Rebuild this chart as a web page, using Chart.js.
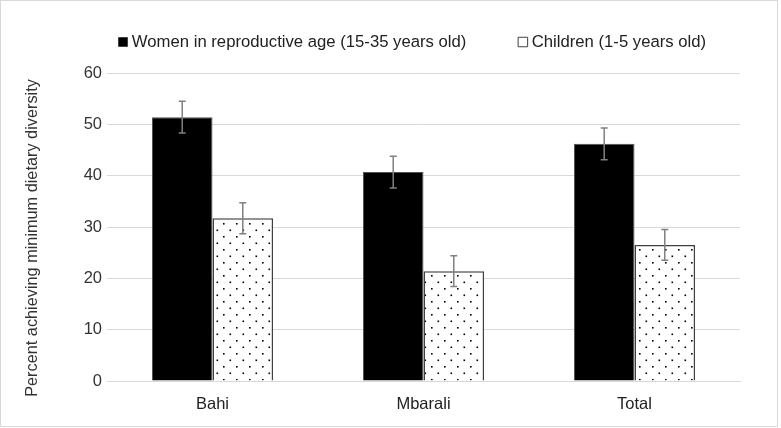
<!DOCTYPE html>
<html>
<head>
<meta charset="utf-8">
<script src="https://cdn.jsdelivr.net/npm/chart.js@4.4.1/dist/chart.umd.min.js"></script>
<style>
  html, body { margin: 0; padding: 0; background: #fff; }
  #wrap { position: relative; width: 781px; height: 428px; }
</style>
</head>
<body>
<div id="wrap"><canvas id="barChart" width="781" height="428"></canvas></div>
<script>
// data
const categories = ['Bahi', 'Mbarali', 'Total'];
const womenValues = [51.4, 40.7, 46.2];
const childrenValues = [31.7, 21.4, 26.5];
const womenErrors = [3.1, 3.1, 3.1];
const childrenErrors = [3.0, 3.0, 3.0];
const seriesLabels = ['Women in reproductive age (15-35 years old)', 'Children (1-5 years old)'];
const yTitle = 'Percent achieving minimum dietary diversity';
const yTicks = { min: 0, max: 60, step: 10 };

const FONT = "'Liberation Sans', Arial, sans-serif";
Chart.defaults.font.family = FONT;
Chart.defaults.color = '#333';

const ctx = document.getElementById('barChart').getContext('2d');

// white with small black dots
function dotPattern() {
    const c = document.createElement('canvas');
    c.width = 13; c.height = 13;
    const g = c.getContext('2d');
    g.fillStyle = '#fff';
    g.fillRect(0, 0, 13, 13);
    g.fillStyle = '#000';
    g.fillRect(2, 2, 1.6, 1.6);
    g.fillRect(8.5, 8.5, 1.6, 1.6);
    return ctx.createPattern(c, 'repeat');
}

// light frame round the whole picture
const frame = {
    id: 'frame',
    beforeDraw(chart) {
        const c = chart.ctx;
        c.save();
        c.fillStyle = '#fff';
        c.fillRect(0, 0, chart.width, chart.height);
        c.strokeStyle = '#d9d9d9';
        c.lineWidth = 1;
        c.strokeRect(0.5, 0.5, 777, 426);
        c.restore();
    }
};

// error bars from the error arrays
const errorBars = {
    id: 'errorBars',
    afterDatasetsDraw(chart) {
        const c = chart.ctx;
        const y = chart.scales.y;
        const errs = [womenErrors, childrenErrors];
        c.save();
        c.strokeStyle = '#808080';
        c.lineWidth = 1.5;
        chart.data.datasets.forEach((ds, i) => {
            chart.getDatasetMeta(i).data.forEach((bar, j) => {
                const v = ds.data[j];
                const top = y.getPixelForValue(v + errs[i][j]);
                const bot = y.getPixelForValue(v - errs[i][j]);
                const x = bar.x;
                c.beginPath();
                c.moveTo(x, top); c.lineTo(x, bot);
                c.moveTo(x - 3.5, top); c.lineTo(x + 3.5, top);
                c.moveTo(x - 3.5, bot); c.lineTo(x + 3.5, bot);
                c.stroke();
            });
        });
        c.restore();
    }
};

// vertical axis title
const axisTitle = {
    id: 'axisTitle',
    afterDraw(chart) {
        const c = chart.ctx;
        c.save();
        c.translate(33, 238);
        c.rotate(-Math.PI / 2);
        c.font = '16.3px ' + FONT;
        c.fillStyle = '#333';
        c.textAlign = 'center';
        c.textBaseline = 'middle';
        c.fillText(yTitle, 0, 0);
        c.restore();
    }
};

// legend sits in a fixed band above the plot
const legendPlace = {
    id: 'legendPlace',
    beforeInit(chart) {
        const fit = chart.legend.fit;
        chart.legend.fit = function () {
            fit.call(this);
            this.height = 73;
        };
    },
    afterLayout(chart) {
        const lg = chart.legend;
        const pad = lg.options.labels.padding;
        lg.left = 122.5 - pad;
        lg.right = chart.width;
        lg.top = 42 - 8.35 - pad;
    }
};

new Chart(ctx, {
    type: 'bar',
    data: {
        labels: categories,
        datasets: [
            {
                label: seriesLabels[0],
                data: womenValues,
                backgroundColor: '#000',
                borderColor: '#505050',
                borderWidth: 1,
                categoryPercentage: 0.574,
                barPercentage: 1
            },
            {
                label: seriesLabels[1],
                data: childrenValues,
                backgroundColor: dotPattern(),
                borderColor: '#404040',
                borderWidth: 1.5,
                categoryPercentage: 0.574,
                barPercentage: 1
            }
        ]
    },
    options: {
        responsive: false,
        animation: false,
        devicePixelRatio: 1,
        layout: { padding: { top: 0, left: 0, right: 41, bottom: 0 } },
        plugins: {
            legend: {
                position: 'top',
                align: 'start',
                labels: {
                    usePointStyle: true,
                    pointStyle: 'rect',
                    boxWidth: 1,
                    boxHeight: 9.5,
                    padding: 56,
                    color: '#222',
                    font: { size: 16.7 },
                    generateLabels(chart) {
                        const items = Chart.defaults.plugins.legend.labels.generateLabels(chart);
                        items.forEach(it => { it.pointStyle = 'rect'; });
                        items[0].fillStyle = '#000';
                        items[0].lineWidth = 0;
                        items[1].fillStyle = '#fff';
                        items[1].strokeStyle = '#404040';
                        items[1].lineWidth = 1;
                        return items;
                    }
                }
            },
            tooltip: { enabled: false }
        },
        scales: {
            x: {
                grid: { display: false, drawTicks: false },
                border: { color: '#d9d9d9', width: 1 },
                ticks: { padding: 14, font: { size: 16.5 }, color: '#222' },
                afterFit(scale) { scale.height = 47; }
            },
            y: {
                min: yTicks.min,
                max: yTicks.max,
                ticks: { stepSize: yTicks.step, padding: 5, font: { size: 16.5 }, color: '#333' },
                grid: { color: '#d9d9d9', drawTicks: false },
                border: { display: false },
                afterFit(scale) { scale.width = 107; }
            }
        }
    },
    plugins: [frame, errorBars, axisTitle, legendPlace]
});
</script>
</body>
</html>
